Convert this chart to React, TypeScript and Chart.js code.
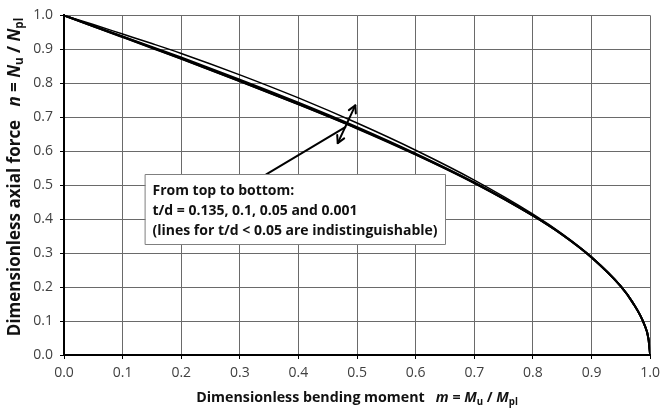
import { useEffect, useRef } from 'react';
import { Chart, registerables } from 'chart.js';

Chart.register(...registerables);

// Dimensionless bending moment m (x values)
const mValues = [0, 0.05, 0.1, 0.15, 0.2, 0.3, 0.4, 0.5, 0.6, 0.7, 0.8, 0.85, 0.9, 0.95, 0.97, 0.99, 0.997, 1.0];
// Dimensionless axial force n for each t/d (top to bottom)
const n_td0135 = [1.0, 0.973, 0.945, 0.917, 0.888, 0.825, 0.757, 0.683, 0.603, 0.515, 0.415, 0.357, 0.289, 0.203, 0.155, 0.090, 0.049, 0.0];
const n_td010 = [1.0, 0.969, 0.938, 0.907, 0.876, 0.811, 0.743, 0.671, 0.593, 0.508, 0.411, 0.355, 0.288, 0.202, 0.155, 0.090, 0.049, 0.0];
const n_td005 = [1.0, 0.968, 0.937, 0.905, 0.873, 0.807, 0.739, 0.668, 0.591, 0.507, 0.410, 0.354, 0.287, 0.202, 0.155, 0.090, 0.049, 0.0];
const n_td0001 = [1.0, 0.968, 0.936, 0.904, 0.872, 0.806, 0.738, 0.667, 0.590, 0.506, 0.410, 0.354, 0.287, 0.202, 0.155, 0.090, 0.049, 0.0];
const seriesNames = ['t/d = 0.135', 't/d = 0.1', 't/d = 0.05', 't/d = 0.001'];
const seriesWidths = [1.5, 2, 2, 2];

const annotationLines = [
  'From top to bottom:',
  't/d = 0.135, 0.1, 0.05 and 0.001',
  '(lines for t/d < 0.05 are indistinguishable)',
];

const FONT = '"Open Sans", "Noto Sans", sans-serif';

type Seg = { t: string; it?: boolean; sub?: boolean };
const xTitle: Seg[] = [
  { t: 'Dimensionless bending moment   ' },
  { t: 'm', it: true },
  { t: ' = ' },
  { t: 'M', it: true },
  { t: 'u', sub: true },
  { t: ' / ' },
  { t: 'M', it: true },
  { t: 'pl', sub: true },
];
const yTitle: Seg[] = [
  { t: 'Dimensionless axial force   ' },
  { t: 'n', it: true },
  { t: ' = ' },
  { t: 'N', it: true },
  { t: 'u', sub: true },
  { t: ' / ' },
  { t: 'N', it: true },
  { t: 'pl', sub: true },
];

function segFont(s: Seg, size: number) {
  return `${s.it ? 'italic ' : ''}bold ${s.sub ? size * 0.68 : size}px ${FONT}`;
}

function richWidth(ctx: CanvasRenderingContext2D, segs: Seg[], size: number) {
  let total = 0;
  for (const s of segs) {
    ctx.font = segFont(s, size);
    total += ctx.measureText(s.t).width;
  }
  return total;
}

// draws rich text centred on (cx, cy), sized so it spans targetWidth
function drawRich(ctx: CanvasRenderingContext2D, segs: Seg[], cx: number, cy: number, targetWidth: number) {
  const size = Math.min(17, Math.max(11, (16 * targetWidth) / richWidth(ctx, segs, 16)));
  const total = richWidth(ctx, segs, size);
  let x = cx - total / 2;
  ctx.textBaseline = 'middle';
  ctx.textAlign = 'left';
  for (const s of segs) {
    ctx.font = segFont(s, size);
    ctx.fillText(s.t, x, cy + (s.sub ? size * 0.3 : 0));
    x += ctx.measureText(s.t).width;
  }
}

function arrowHead(ctx: CanvasRenderingContext2D, x0: number, y0: number, x1: number, y1: number) {
  const ang = Math.atan2(y1 - y0, x1 - x0);
  const len = 8;
  const spread = 0.5;
  ctx.beginPath();
  ctx.moveTo(x1 - len * Math.cos(ang - spread), y1 - len * Math.sin(ang - spread));
  ctx.lineTo(x1, y1);
  ctx.lineTo(x1 - len * Math.cos(ang + spread), y1 - len * Math.sin(ang + spread));
  ctx.stroke();
}

const overlayPlugin = {
  id: 'overlay',
  afterDraw(chart: any) {
    const ctx: CanvasRenderingContext2D = chart.ctx;
    const xs = chart.scales.x;
    const ys = chart.scales.y;
    const px = (m: number) => xs.getPixelForValue(m);
    const py = (n: number) => ys.getPixelForValue(n);
    ctx.save();
    ctx.lineCap = 'round';
    ctx.lineJoin = 'round';
    // annotation pointer line
    ctx.strokeStyle = '#000';
    ctx.lineWidth = 2;
    ctx.beginPath();
    ctx.moveTo(px(0.345), py(0.532));
    ctx.lineTo(px(0.480), py(0.671));
    ctx.stroke();
    // double arrow
    const ax0 = px(0.467), ay0 = py(0.624), ax1 = px(0.497), ay1 = py(0.735);
    ctx.beginPath();
    ctx.moveTo(ax0, ay0);
    ctx.lineTo(ax1, ay1);
    ctx.stroke();
    arrowHead(ctx, ax0, ay0, ax1, ay1);
    arrowHead(ctx, ax1, ay1, ax0, ay0);
    // text box
    const bx0 = px(0.139), bx1 = px(0.650), by0 = py(0.532), by1 = py(0.326);
    ctx.fillStyle = '#fff';
    ctx.fillRect(bx0, by0, bx1 - bx0, by1 - by0);
    ctx.strokeStyle = '#7f7f7f';
    ctx.lineWidth = 1;
    ctx.strokeRect(Math.round(bx0) + 0.5, Math.round(by0) + 0.5, Math.round(bx1 - bx0), Math.round(by1 - by0));
    ctx.fillStyle = '#111';
    ctx.font = `bold 14px ${FONT}`;
    ctx.textAlign = 'left';
    ctx.textBaseline = 'middle';
    annotationLines.forEach((l, i) => {
      ctx.fillText(l, bx0 + 7, by0 + 17 + i * 20);
    });
    // axis titles
    ctx.fillStyle = '#111';
    drawRich(ctx, xTitle, (xs.left + xs.right) / 2, 398, 322);
    ctx.translate(15, 177);
    ctx.rotate(-Math.PI / 2);
    drawRich(ctx, yTitle, 0, 0, 324);
    ctx.restore();
  },
};

export default function App() {
  const ref = useRef<HTMLCanvasElement | null>(null);
  useEffect(() => {
    document.body.style.margin = '0';
    const series = [n_td0135, n_td010, n_td005, n_td0001];
    const chart = new Chart(ref.current as HTMLCanvasElement, {
      type: 'line',
      data: {
        datasets: series.map((vals, i) => ({
          label: seriesNames[i],
          data: mValues.map((m, j) => ({ x: m, y: vals[j] })),
          borderColor: '#000',
          borderWidth: seriesWidths[i],
          pointRadius: 0,
          fill: false,
          cubicInterpolationMode: 'monotone' as const,
        })),
      },
      options: {
        animation: false,
        responsive: false,
        devicePixelRatio: 1,
        layout: { padding: { top: 15, right: 11, left: 0, bottom: 0 } },
        plugins: { legend: { display: false }, tooltip: { enabled: false } },
        scales: {
          x: {
            type: 'linear',
            min: 0,
            max: 1,
            afterFit: (s: any) => { s.height = 53; },
            ticks: {
              stepSize: 0.1,
              callback: (v: any) => Number(v).toFixed(1),
              font: { family: FONT, size: 14 },
              color: '#404040',
              padding: 6,
              maxRotation: 0,
            },
            grid: { color: '#6a6a6a', lineWidth: 1, tickLength: 4, tickColor: '#000' },
            border: { color: '#000', width: 2 },
          },
          y: {
            type: 'linear',
            min: 0,
            max: 1,
            afterFit: (s: any) => { s.width = 64; },
            ticks: {
              stepSize: 0.1,
              callback: (v: any) => Number(v).toFixed(1),
              font: { family: FONT, size: 14 },
              color: '#404040',
              padding: 7,
            },
            grid: { color: '#6a6a6a', lineWidth: 1, tickLength: 4, tickColor: '#000' },
            border: { color: '#000', width: 2 },
          },
        },
      },
      plugins: [overlayPlugin],
    });
    return () => chart.destroy();
  }, []);
  return <canvas ref={ref} width={666} height={408} style={{ display: 'block', width: 666, height: 408 }} />;
}
